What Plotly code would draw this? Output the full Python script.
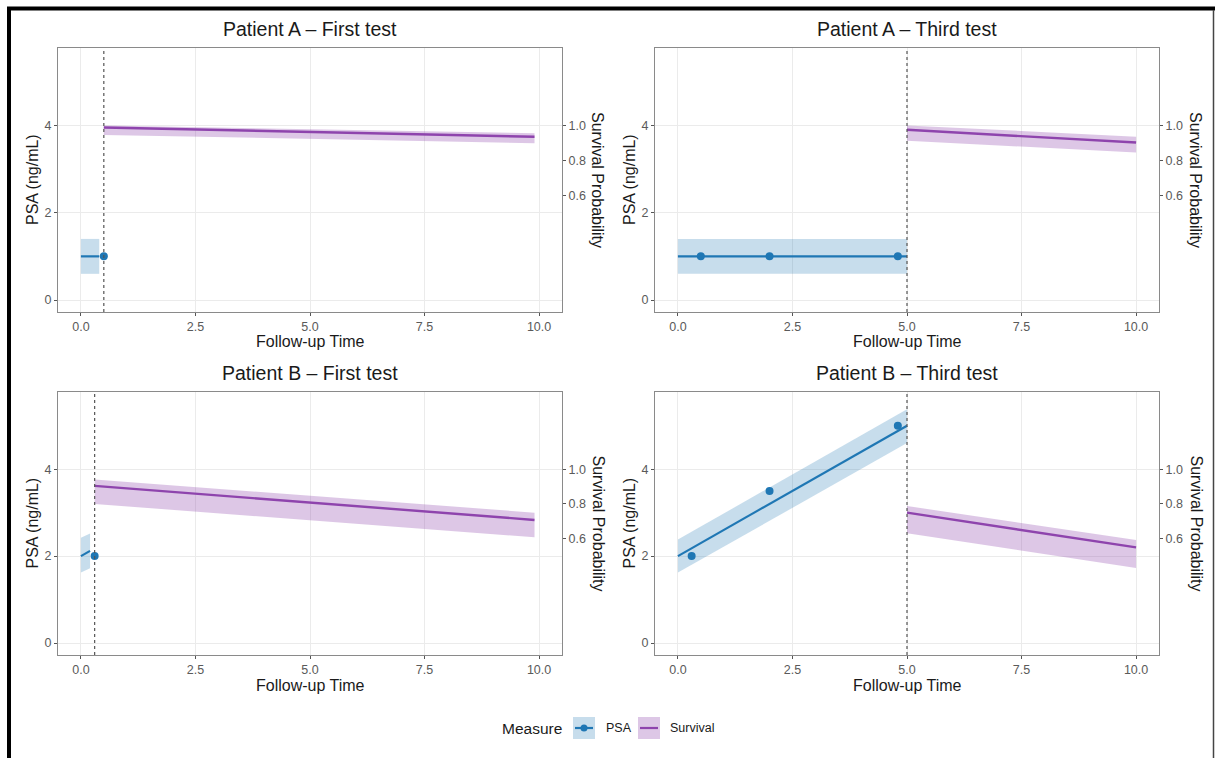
import plotly.graph_objects as go

W, H = 1215, 758

# ---- data -------------------------------------------------------------
PANEL_TITLES = [
    "Patient A – First test",
    "Patient A – Third test",
    "Patient B – First test",
    "Patient B – Third test",
]
LANDMARK_TIME = [0.5, 5.0, 0.3, 5.0]

# observed PSA measurements
PSA_OBS_T = [[0.5], [0.5, 2.0, 4.8], [0.3], [0.3, 2.0, 4.8]]
PSA_OBS_V = [[1.0], [1.0, 1.0, 1.0], [2.0], [2.0, 3.5, 5.0]]

# fitted PSA trajectory with its band
PSA_FIT_T = [[0.0, 0.4], [0.0, 5.0], [0.0, 0.2], [0.0, 5.0]]
PSA_FIT_V = [[1.0, 1.0], [1.0, 1.0], [2.0, 2.12], [2.0, 5.0]]
PSA_FIT_LO = [[0.6, 0.6], [0.6, 0.6], [1.62, 1.72], [1.62, 4.6]]
PSA_FIT_HI = [[1.4, 1.4], [1.4, 1.4], [2.42, 2.52], [2.38, 5.38]]

# predicted survival after the landmark time
SURV_T = [[0.5, 9.9], [5.0, 10.0], [0.3, 9.9], [5.0, 10.0]]
SURV_V = [[0.988, 0.935], [0.975, 0.902], [0.904, 0.708], [0.75, 0.55]]
SURV_LO = [[0.946, 0.898], [0.913, 0.845], [0.80, 0.608], [0.632, 0.431]]
SURV_HI = [[1.0, 0.956], [1.0, 0.936], [0.94, 0.75], [0.788, 0.593]]

X_TICKS = [0.0, 2.5, 5.0, 7.5, 10.0]
X_TICK_TEXT = ["0.0", "2.5", "5.0", "7.5", "10.0"]
PSA_TICKS = [0, 2, 4]
SURV_TICKS = [0.6, 0.8, 1.0]
SURV_TICK_TEXT = ["0.6", "0.8", "1.0"]
TIME_LIMITS = [0.0, 10.0]
PSA_LIMITS = [0.0, 5.5]
SURV_SCALE = 4.0  # PSA value = SURV_SCALE * survival probability

LEGEND_TITLE = "Measure"
LEGEND_LABELS = ["PSA", "Survival"]

# ---- styling ----------------------------------------------------------
FONT = "Liberation Sans, Arial, Helvetica, sans-serif"
PSA_COLOR = "#1F77B4"
PSA_FILL = "rgba(31,119,180,0.25)"
SURV_COLOR = "#8E44AD"
SURV_FILL = "rgba(142,68,173,0.30)"
GRID = "#EBEBEB"
BORDER = "#8A8A8A"
TICK_COLOR = "#5A5A5A"
TEXT = "#1A1A1A"

COL_PX = [(58, 562), (655, 1159)]
ROW_PX = [(48, 312), (392, 655)]
TITLE_Y = [29, 373]
XTITLE_Y = [341, 685]
PSA_TITLE_X = [32, 629]
SURV_TITLE_X = [598, 1196]


def px(x):
    return x / W


def py(y):
    return 1 - y / H


def expand(lims, f=0.05):
    d = (lims[1] - lims[0]) * f
    return [lims[0] - d, lims[1] + d]


x_range = expand(TIME_LIMITS)
y_range = expand(PSA_LIMITS)
s_range = [v / SURV_SCALE for v in y_range]

fig = go.Figure()
layout = dict(
    width=W, height=H,
    margin=dict(l=0, r=0, t=0, b=0),
    paper_bgcolor="white", plot_bgcolor="white",
    showlegend=False,
    font=dict(family=FONT, color=TEXT),
)
annotations = []
shapes = []

tick_font = dict(size=12.5, color=TICK_COLOR, family=FONT)

for i in range(4):
    r, c = divmod(i, 2)
    n = i + 1
    sfx = "" if n == 1 else str(n)
    xname, yname, sname = f"x{sfx}", f"y{sfx}", f"y{n + 4}"
    x0, x1 = COL_PX[c]
    y0, y1 = ROW_PX[r]

    axis_common = dict(
        showline=True, linecolor=BORDER, linewidth=1, mirror=True,
        ticks="outside", ticklen=3, tickcolor="#555555", tickwidth=1,
        tickfont=tick_font,
        showgrid=True, gridcolor=GRID, gridwidth=1, zeroline=False,
        fixedrange=True,
    )
    layout[f"xaxis{sfx}"] = dict(
        axis_common, domain=[px(x0), px(x1)], anchor=yname,
        range=x_range, tickvals=X_TICKS, ticktext=X_TICK_TEXT,
    )
    layout[f"yaxis{sfx}"] = dict(
        axis_common, domain=[py(y1), py(y0)], anchor=xname,
        range=y_range, tickvals=PSA_TICKS,
    )
    layout[f"yaxis{n + 4}"] = dict(
        overlaying=yname, side="right", anchor=xname,
        range=s_range, tickvals=SURV_TICKS, ticktext=SURV_TICK_TEXT,
        showgrid=False, zeroline=False, showline=False,
        ticks="outside", ticklen=3, tickcolor="#555555", tickwidth=1,
        tickfont=tick_font,
        fixedrange=True,
    )

    # PSA band, fitted line and observations
    t = PSA_FIT_T[i]
    fig.add_trace(go.Scatter(
        x=t + t[::-1], y=PSA_FIT_HI[i] + PSA_FIT_LO[i][::-1],
        fill="toself", fillcolor=PSA_FILL, line=dict(width=0),
        mode="lines", hoverinfo="skip", xaxis=xname, yaxis=yname,
    ))
    fig.add_trace(go.Scatter(
        x=t, y=PSA_FIT_V[i], mode="lines",
        line=dict(color=PSA_COLOR, width=2.2), xaxis=xname, yaxis=yname,
    ))
    fig.add_trace(go.Scatter(
        x=PSA_OBS_T[i], y=PSA_OBS_V[i], mode="markers",
        marker=dict(color=PSA_COLOR, size=8), xaxis=xname, yaxis=yname,
    ))

    # survival band and curve on the secondary axis
    ts = SURV_T[i]
    fig.add_trace(go.Scatter(
        x=ts + ts[::-1], y=SURV_HI[i] + SURV_LO[i][::-1],
        fill="toself", fillcolor=SURV_FILL, line=dict(width=0),
        mode="lines", hoverinfo="skip", xaxis=xname, yaxis=sname,
    ))
    fig.add_trace(go.Scatter(
        x=ts, y=SURV_V[i], mode="lines",
        line=dict(color=SURV_COLOR, width=2.4), xaxis=xname, yaxis=sname,
    ))

    # landmark time marker
    shapes.append(dict(
        type="line", xref=xname, yref=f"{yname} domain",
        x0=LANDMARK_TIME[i], x1=LANDMARK_TIME[i], y0=0, y1=1,
        line=dict(color="#555555", width=1.2, dash="dot"),
    ))

    cx = px((x0 + x1) / 2)
    annotations += [
        dict(text=PANEL_TITLES[i], x=cx, y=py(TITLE_Y[r]), xref="paper", yref="paper",
             showarrow=False, xanchor="center", yanchor="middle",
             font=dict(size=19.5, color=TEXT, family=FONT)),
        dict(text="Follow-up Time", x=cx, y=py(XTITLE_Y[r]), xref="paper", yref="paper",
             showarrow=False, xanchor="center", yanchor="middle",
             font=dict(size=16, color=TEXT, family=FONT)),
        dict(text="PSA (ng/mL)", x=px(PSA_TITLE_X[c]), y=py((y0 + y1) / 2),
             xref="paper", yref="paper", showarrow=False, textangle=-90,
             xanchor="center", yanchor="middle",
             font=dict(size=16, color=TEXT, family=FONT)),
        dict(text="Survival Probability", x=px(SURV_TITLE_X[c]), y=py((y0 + y1) / 2),
             xref="paper", yref="paper", showarrow=False, textangle=90,
             xanchor="center", yanchor="middle",
             font=dict(size=16, color=TEXT, family=FONT)),
    ]

# ---- legend -----------------------------------------------------------
LEG_Y = 728
annotations.append(dict(
    text=LEGEND_TITLE, x=px(564), y=py(LEG_Y), xref="paper", yref="paper",
    showarrow=False, xanchor="right", yanchor="middle",
    font=dict(size=15.5, color=TEXT, family=FONT)))
keys = [(573, PSA_FILL, PSA_COLOR, True, 604), (638, SURV_FILL, SURV_COLOR, False, 668)]
for (kx, fill, col, dot, tx), label in zip(keys, LEGEND_LABELS):
    shapes.append(dict(type="rect", xref="paper", yref="paper",
                       x0=px(kx), x1=px(kx + 22), y0=py(LEG_Y + 11), y1=py(LEG_Y - 11),
                       fillcolor=fill, line=dict(width=0)))
    shapes.append(dict(type="line", xref="paper", yref="paper",
                       x0=px(kx + 2), x1=px(kx + 20), y0=py(LEG_Y), y1=py(LEG_Y),
                       line=dict(color=col, width=2.2)))
    if dot:
        shapes.append(dict(type="circle", xref="paper", yref="paper",
                           x0=px(kx + 7.5), x1=px(kx + 14.5),
                           y0=py(LEG_Y + 3.5), y1=py(LEG_Y - 3.5),
                           fillcolor=col, line=dict(width=0)))
    annotations.append(dict(
        text=label, x=px(tx), y=py(LEG_Y), xref="paper", yref="paper",
        showarrow=False, xanchor="left", yanchor="middle",
        font=dict(size=12.5, color=TEXT, family=FONT)))

# ---- outer frame ------------------------------------------------------
shapes += [
    dict(type="line", xref="paper", yref="paper", x0=px(7), x1=1.0,
         y0=py(8.5), y1=py(8.5), line=dict(color="black", width=4)),
    dict(type="line", xref="paper", yref="paper", x0=px(9), x1=px(9),
         y0=py(7), y1=0.0, line=dict(color="black", width=4)),
    dict(type="line", xref="paper", yref="paper", x0=px(1213.5), x1=px(1213.5),
         y0=py(10), y1=0.0, line=dict(color="#444444", width=1.5)),
]

layout["annotations"] = annotations
layout["shapes"] = shapes
fig.update_layout(**layout)
fig.write_html("out.html", config={"displayModeBar": False})
